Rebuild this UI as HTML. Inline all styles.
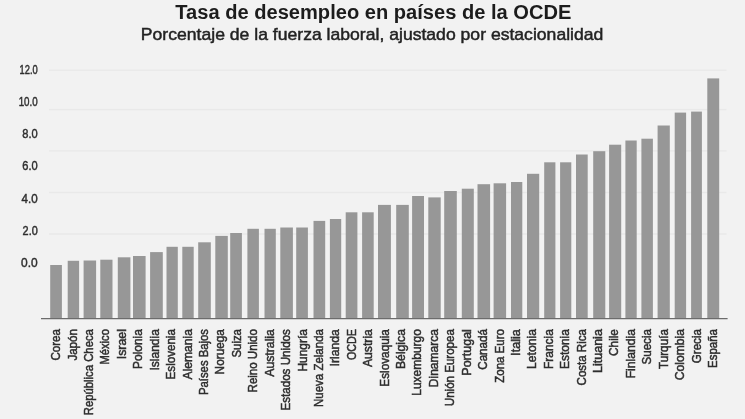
<!DOCTYPE html>
<html lang="es"><head><meta charset="utf-8"><title>Tasa de desempleo en países de la OCDE</title>
<style>html,body{margin:0;padding:0;background:#f2f2f2;}svg{display:block}text{font-family:"Liberation Sans",sans-serif}</style></head><body>
<svg width="745" height="419" viewBox="0 0 745 419">
<rect width="745" height="419" fill="#f2f2f2"/>
<rect x="49" y="69.5" width="677.5" height="1.4" fill="#e9e9e9"/>
<rect x="49" y="108.9" width="677.5" height="1.4" fill="#e9e9e9"/>
<rect x="49" y="150.2" width="677.5" height="1.4" fill="#e9e9e9"/>
<rect x="49" y="191.8" width="677.5" height="1.4" fill="#e9e9e9"/>
<rect x="49" y="233.3" width="677.5" height="1.4" fill="#e9e9e9"/>
<text x="373.3" y="18.5" text-anchor="middle" font-size="19.5" font-weight="700" fill="#1c1c1c" textLength="396" lengthAdjust="spacingAndGlyphs">Tasa de desempleo en países de la OCDE</text>
<text x="372.1" y="40.2" text-anchor="middle" font-size="16.4" fill="#222" stroke="#222" stroke-width="0.45" textLength="462.5" lengthAdjust="spacingAndGlyphs">Porcentaje de la fuerza laboral, ajustado por estacionalidad</text>
<text x="37.7" y="74.3" text-anchor="end" font-size="12.7" fill="#2e2e2e" stroke="#2e2e2e" stroke-width="0.45" textLength="18.2" lengthAdjust="spacingAndGlyphs">12.0</text>
<text x="37.7" y="106.2" text-anchor="end" font-size="12.7" fill="#2e2e2e" stroke="#2e2e2e" stroke-width="0.45" textLength="19.0" lengthAdjust="spacingAndGlyphs">10.0</text>
<text x="37.7" y="138.2" text-anchor="end" font-size="12.7" fill="#2e2e2e" stroke="#2e2e2e" stroke-width="0.45" textLength="15.4" lengthAdjust="spacingAndGlyphs">8.0</text>
<text x="37.7" y="170.2" text-anchor="end" font-size="12.7" fill="#2e2e2e" stroke="#2e2e2e" stroke-width="0.45" textLength="15.4" lengthAdjust="spacingAndGlyphs">6.0</text>
<text x="37.7" y="202.7" text-anchor="end" font-size="12.7" fill="#2e2e2e" stroke="#2e2e2e" stroke-width="0.45" textLength="16.1" lengthAdjust="spacingAndGlyphs">4.0</text>
<text x="37.7" y="235.1" text-anchor="end" font-size="12.7" fill="#2e2e2e" stroke="#2e2e2e" stroke-width="0.45" textLength="15.1" lengthAdjust="spacingAndGlyphs">2.0</text>
<text x="37.7" y="267.2" text-anchor="end" font-size="12.7" fill="#2e2e2e" stroke="#2e2e2e" stroke-width="0.45" textLength="16.6" lengthAdjust="spacingAndGlyphs">0.0</text>
<rect x="50.2" y="265.0" width="11.7" height="53.5" fill="#979797"/>
<rect x="67.7" y="260.8" width="11.4" height="57.7" fill="#979797"/>
<rect x="83.6" y="260.5" width="12.5" height="58.0" fill="#979797"/>
<rect x="100.3" y="259.7" width="12.2" height="58.8" fill="#979797"/>
<rect x="117.8" y="257.3" width="12.6" height="61.2" fill="#979797"/>
<rect x="133.0" y="256.0" width="12.6" height="62.5" fill="#979797"/>
<rect x="150.1" y="252.1" width="12.7" height="66.4" fill="#979797"/>
<rect x="166.5" y="246.8" width="11.3" height="71.7" fill="#979797"/>
<rect x="182.3" y="246.8" width="11.4" height="71.7" fill="#979797"/>
<rect x="198.2" y="242.3" width="12.6" height="76.2" fill="#979797"/>
<rect x="215.3" y="235.9" width="12.5" height="82.6" fill="#979797"/>
<rect x="230.2" y="233.0" width="11.7" height="85.5" fill="#979797"/>
<rect x="247.4" y="228.8" width="11.5" height="89.7" fill="#979797"/>
<rect x="264.5" y="228.8" width="11.3" height="89.7" fill="#979797"/>
<rect x="280.3" y="227.5" width="12.6" height="91.0" fill="#979797"/>
<rect x="296.2" y="227.5" width="11.7" height="91.0" fill="#979797"/>
<rect x="313.5" y="220.9" width="11.7" height="97.6" fill="#979797"/>
<rect x="329.9" y="219.0" width="11.3" height="99.5" fill="#979797"/>
<rect x="345.7" y="212.3" width="11.7" height="106.2" fill="#979797"/>
<rect x="362.1" y="212.3" width="11.6" height="106.2" fill="#979797"/>
<rect x="378.0" y="204.9" width="12.9" height="113.6" fill="#979797"/>
<rect x="396.2" y="204.9" width="12.6" height="113.6" fill="#979797"/>
<rect x="412.1" y="196.0" width="11.9" height="122.5" fill="#979797"/>
<rect x="428.3" y="197.4" width="12.4" height="121.1" fill="#979797"/>
<rect x="444.2" y="191.0" width="12.6" height="127.5" fill="#979797"/>
<rect x="461.8" y="188.7" width="12.0" height="129.8" fill="#979797"/>
<rect x="477.5" y="184.2" width="12.6" height="134.3" fill="#979797"/>
<rect x="493.6" y="183.3" width="12.5" height="135.2" fill="#979797"/>
<rect x="511.0" y="182.0" width="11.3" height="136.5" fill="#979797"/>
<rect x="527.0" y="173.8" width="12.2" height="144.7" fill="#979797"/>
<rect x="544.2" y="162.3" width="11.2" height="156.2" fill="#979797"/>
<rect x="560.1" y="162.3" width="11.2" height="156.2" fill="#979797"/>
<rect x="576.0" y="154.5" width="11.7" height="164.0" fill="#979797"/>
<rect x="593.2" y="151.2" width="12.1" height="167.3" fill="#979797"/>
<rect x="609.1" y="144.7" width="12.1" height="173.8" fill="#979797"/>
<rect x="625.4" y="140.5" width="11.3" height="178.0" fill="#979797"/>
<rect x="641.4" y="138.7" width="11.5" height="179.8" fill="#979797"/>
<rect x="657.6" y="125.5" width="12.2" height="193.0" fill="#979797"/>
<rect x="674.7" y="112.6" width="11.4" height="205.9" fill="#979797"/>
<rect x="691.1" y="111.6" width="10.8" height="206.9" fill="#979797"/>
<rect x="707.3" y="78.4" width="11.9" height="240.1" fill="#979797"/>
<rect x="41" y="318.0" width="686.6" height="1.25" fill="#6c6c6c"/>
<text transform="translate(60.20,329.1) rotate(-90)" text-anchor="end" font-size="13.3" fill="#2e2e2e" stroke="#2e2e2e" stroke-width="0.5" textLength="31.5" lengthAdjust="spacingAndGlyphs">Corea</text>
<text transform="translate(76.62,329.1) rotate(-90)" text-anchor="end" font-size="13.3" fill="#2e2e2e" stroke="#2e2e2e" stroke-width="0.5" textLength="31.5" lengthAdjust="spacingAndGlyphs">Japón</text>
<text transform="translate(93.04,329.1) rotate(-90)" text-anchor="end" font-size="13.3" fill="#2e2e2e" stroke="#2e2e2e" stroke-width="0.5" textLength="86.2" lengthAdjust="spacingAndGlyphs">República Checa</text>
<text transform="translate(109.46,329.1) rotate(-90)" text-anchor="end" font-size="13.3" fill="#2e2e2e" stroke="#2e2e2e" stroke-width="0.5" textLength="35.4" lengthAdjust="spacingAndGlyphs">México</text>
<text transform="translate(125.88,329.1) rotate(-90)" text-anchor="end" font-size="13.3" fill="#2e2e2e" stroke="#2e2e2e" stroke-width="0.5" textLength="30.2" lengthAdjust="spacingAndGlyphs">Israel</text>
<text transform="translate(142.30,329.1) rotate(-90)" text-anchor="end" font-size="13.3" fill="#2e2e2e" stroke="#2e2e2e" stroke-width="0.5" textLength="39.9" lengthAdjust="spacingAndGlyphs">Polonia</text>
<text transform="translate(158.72,329.1) rotate(-90)" text-anchor="end" font-size="13.3" fill="#2e2e2e" stroke="#2e2e2e" stroke-width="0.5" textLength="41.4" lengthAdjust="spacingAndGlyphs">Islandia</text>
<text transform="translate(175.14,329.1) rotate(-90)" text-anchor="end" font-size="13.3" fill="#2e2e2e" stroke="#2e2e2e" stroke-width="0.5" textLength="50.3" lengthAdjust="spacingAndGlyphs">Eslovenia</text>
<text transform="translate(191.56,329.1) rotate(-90)" text-anchor="end" font-size="13.3" fill="#2e2e2e" stroke="#2e2e2e" stroke-width="0.5" textLength="50.3" lengthAdjust="spacingAndGlyphs">Alemania</text>
<text transform="translate(207.98,329.1) rotate(-90)" text-anchor="end" font-size="13.3" fill="#2e2e2e" stroke="#2e2e2e" stroke-width="0.5" textLength="65.9" lengthAdjust="spacingAndGlyphs">Países Bajos</text>
<text transform="translate(224.40,329.1) rotate(-90)" text-anchor="end" font-size="13.3" fill="#2e2e2e" stroke="#2e2e2e" stroke-width="0.5" textLength="45.3" lengthAdjust="spacingAndGlyphs">Noruega</text>
<text transform="translate(240.82,329.1) rotate(-90)" text-anchor="end" font-size="13.3" fill="#2e2e2e" stroke="#2e2e2e" stroke-width="0.5" textLength="28.4" lengthAdjust="spacingAndGlyphs">Suiza</text>
<text transform="translate(257.24,329.1) rotate(-90)" text-anchor="end" font-size="13.3" fill="#2e2e2e" stroke="#2e2e2e" stroke-width="0.5" textLength="63.3" lengthAdjust="spacingAndGlyphs">Reino Unido</text>
<text transform="translate(273.66,329.1) rotate(-90)" text-anchor="end" font-size="13.3" fill="#2e2e2e" stroke="#2e2e2e" stroke-width="0.5" textLength="47.7" lengthAdjust="spacingAndGlyphs">Australia</text>
<text transform="translate(290.08,329.1) rotate(-90)" text-anchor="end" font-size="13.3" fill="#2e2e2e" stroke="#2e2e2e" stroke-width="0.5" textLength="81.5" lengthAdjust="spacingAndGlyphs">Estados Unidos</text>
<text transform="translate(306.50,329.1) rotate(-90)" text-anchor="end" font-size="13.3" fill="#2e2e2e" stroke="#2e2e2e" stroke-width="0.5" textLength="42.5" lengthAdjust="spacingAndGlyphs">Hungría</text>
<text transform="translate(322.92,329.1) rotate(-90)" text-anchor="end" font-size="13.3" fill="#2e2e2e" stroke="#2e2e2e" stroke-width="0.5" textLength="77.9" lengthAdjust="spacingAndGlyphs">Nueva Zelanda</text>
<text transform="translate(339.34,329.1) rotate(-90)" text-anchor="end" font-size="13.3" fill="#2e2e2e" stroke="#2e2e2e" stroke-width="0.5" textLength="37.3" lengthAdjust="spacingAndGlyphs">Irlanda</text>
<text transform="translate(355.76,329.1) rotate(-90)" text-anchor="end" font-size="13.3" fill="#2e2e2e" stroke="#2e2e2e" stroke-width="0.5" textLength="31.0" lengthAdjust="spacingAndGlyphs">OCDE</text>
<text transform="translate(372.18,329.1) rotate(-90)" text-anchor="end" font-size="13.3" fill="#2e2e2e" stroke="#2e2e2e" stroke-width="0.5" textLength="38.0" lengthAdjust="spacingAndGlyphs">Austria</text>
<text transform="translate(388.60,329.1) rotate(-90)" text-anchor="end" font-size="13.3" fill="#2e2e2e" stroke="#2e2e2e" stroke-width="0.5" textLength="57.6" lengthAdjust="spacingAndGlyphs">Eslovaquia</text>
<text transform="translate(405.02,329.1) rotate(-90)" text-anchor="end" font-size="13.3" fill="#2e2e2e" stroke="#2e2e2e" stroke-width="0.5" textLength="39.9" lengthAdjust="spacingAndGlyphs">Bélgica</text>
<text transform="translate(421.44,329.1) rotate(-90)" text-anchor="end" font-size="13.3" fill="#2e2e2e" stroke="#2e2e2e" stroke-width="0.5" textLength="66.7" lengthAdjust="spacingAndGlyphs">Luxemburgo</text>
<text transform="translate(437.86,329.1) rotate(-90)" text-anchor="end" font-size="13.3" fill="#2e2e2e" stroke="#2e2e2e" stroke-width="0.5" textLength="58.1" lengthAdjust="spacingAndGlyphs">Dinamarca</text>
<text transform="translate(454.28,329.1) rotate(-90)" text-anchor="end" font-size="13.3" fill="#2e2e2e" stroke="#2e2e2e" stroke-width="0.5" textLength="77.1" lengthAdjust="spacingAndGlyphs">Unión Europea</text>
<text transform="translate(470.70,329.1) rotate(-90)" text-anchor="end" font-size="13.3" fill="#2e2e2e" stroke="#2e2e2e" stroke-width="0.5" textLength="46.6" lengthAdjust="spacingAndGlyphs">Portugal</text>
<text transform="translate(487.12,329.1) rotate(-90)" text-anchor="end" font-size="13.3" fill="#2e2e2e" stroke="#2e2e2e" stroke-width="0.5" textLength="40.6" lengthAdjust="spacingAndGlyphs">Canadá</text>
<text transform="translate(503.54,329.1) rotate(-90)" text-anchor="end" font-size="13.3" fill="#2e2e2e" stroke="#2e2e2e" stroke-width="0.5" textLength="53.7" lengthAdjust="spacingAndGlyphs">Zona Euro</text>
<text transform="translate(519.96,329.1) rotate(-90)" text-anchor="end" font-size="13.3" fill="#2e2e2e" stroke="#2e2e2e" stroke-width="0.5" textLength="26.8" lengthAdjust="spacingAndGlyphs">Italia</text>
<text transform="translate(536.38,329.1) rotate(-90)" text-anchor="end" font-size="13.3" fill="#2e2e2e" stroke="#2e2e2e" stroke-width="0.5" textLength="39.9" lengthAdjust="spacingAndGlyphs">Letonia</text>
<text transform="translate(552.80,329.1) rotate(-90)" text-anchor="end" font-size="13.3" fill="#2e2e2e" stroke="#2e2e2e" stroke-width="0.5" textLength="39.9" lengthAdjust="spacingAndGlyphs">Francia</text>
<text transform="translate(569.22,329.1) rotate(-90)" text-anchor="end" font-size="13.3" fill="#2e2e2e" stroke="#2e2e2e" stroke-width="0.5" textLength="39.9" lengthAdjust="spacingAndGlyphs">Estonia</text>
<text transform="translate(585.64,329.1) rotate(-90)" text-anchor="end" font-size="13.3" fill="#2e2e2e" stroke="#2e2e2e" stroke-width="0.5" textLength="56.3" lengthAdjust="spacingAndGlyphs">Costa Rica</text>
<text transform="translate(602.06,329.1) rotate(-90)" text-anchor="end" font-size="13.3" fill="#2e2e2e" stroke="#2e2e2e" stroke-width="0.5" textLength="44.0" lengthAdjust="spacingAndGlyphs">Lituania</text>
<text transform="translate(618.48,329.1) rotate(-90)" text-anchor="end" font-size="13.3" fill="#2e2e2e" stroke="#2e2e2e" stroke-width="0.5" textLength="26.8" lengthAdjust="spacingAndGlyphs">Chile</text>
<text transform="translate(634.90,329.1) rotate(-90)" text-anchor="end" font-size="13.3" fill="#2e2e2e" stroke="#2e2e2e" stroke-width="0.5" textLength="49.2" lengthAdjust="spacingAndGlyphs">Finlandia</text>
<text transform="translate(651.32,329.1) rotate(-90)" text-anchor="end" font-size="13.3" fill="#2e2e2e" stroke="#2e2e2e" stroke-width="0.5" textLength="35.4" lengthAdjust="spacingAndGlyphs">Suecia</text>
<text transform="translate(667.74,329.1) rotate(-90)" text-anchor="end" font-size="13.3" fill="#2e2e2e" stroke="#2e2e2e" stroke-width="0.5" textLength="39.9" lengthAdjust="spacingAndGlyphs">Turquía</text>
<text transform="translate(684.16,329.1) rotate(-90)" text-anchor="end" font-size="13.3" fill="#2e2e2e" stroke="#2e2e2e" stroke-width="0.5" textLength="51.1" lengthAdjust="spacingAndGlyphs">Colombia</text>
<text transform="translate(700.58,329.1) rotate(-90)" text-anchor="end" font-size="13.3" fill="#2e2e2e" stroke="#2e2e2e" stroke-width="0.5" textLength="34.1" lengthAdjust="spacingAndGlyphs">Grecia</text>
<text transform="translate(717.00,329.1) rotate(-90)" text-anchor="end" font-size="13.3" fill="#2e2e2e" stroke="#2e2e2e" stroke-width="0.5" textLength="38.8" lengthAdjust="spacingAndGlyphs">España</text>
</svg></body></html>
